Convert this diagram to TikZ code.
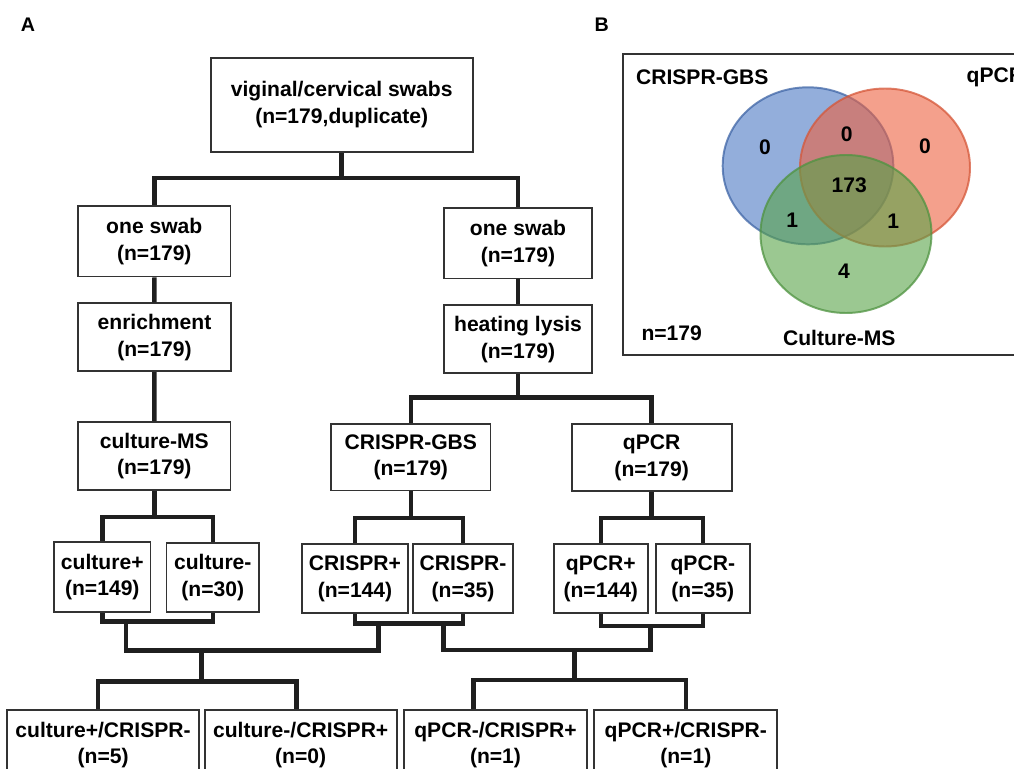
\documentclass[tikz,border=0pt]{standalone}
\usepackage{fontspec}
\setmainfont{Liberation Sans}
\usetikzlibrary{calc}
\tikzstyle{box}=[draw=black!80, line width=1.2pt, fill=white, align=center, inner sep=0pt, font=\bfseries\fontsize{15}{19}\selectfont]
\tikzstyle{link}=[draw=black!88, line width=3.2pt]
\tikzstyle{count}=[font=\bfseries\fontsize{15}{18}\selectfont]
\tikzstyle{panel}=[font=\bfseries\fontsize{14}{16}\selectfont]
\tikzstyle{setring}=[line width=1.4pt, fill opacity=0.6, draw opacity=0.75]
\definecolor{gbsblue}{RGB}{75,120,195}
\definecolor{pcrred}{RGB}{237,97,63}
\definecolor{msgreen}{RGB}{88,163,72}

\begin{document}
\begin{tikzpicture}[x=0.025cm, y=-0.025cm]

  \def\u{0.025cm};
  \useasboundingbox (0,0) rectangle (1014,769);

  \node[panel] (pA) at (28,25) {A};
  \node[panel] (pB) at (601.7,25) {B};

  % flow chart
  \foreach \x/\y/\w/\h/\name/\label in {
      341.7/104.9/262/93.7/top/{viginal/cervical swabs\\(n=179,duplicate)},
      154.3/241.3/152.7/70.7/swabL/{one swab\\(n=179)},
      154.5/337.3/153/68/enrich/{enrichment\\(n=179)},
      518/243.3/148/70.7/swabR/{one swab\\(n=179)},
      518/339.3/148/68/lysis/{heating lysis\\(n=179)},
      154.3/456/152.7/68/cMS/{culture-MS\\(n=179)},
      410.8/457.3/159.7/66.7/crispr/{CRISPR-GBS\\(n=179)},
      651.7/457.5/160/67/qpcr/{qPCR\\(n=179)},
      102.3/577/96.7/69.4/culP/{culture+\\(n=149)},
      212.8/577.2/92.3/69/culN/{culture-\\(n=30)},
      355/578.5/106/68.4/criP/{CRISPR+\\(n=144)},
      463/578.5/99.4/68.4/criN/{CRISPR-\\(n=35)},
      600.8/578.5/93.7/68.4/qP/{qPCR+\\(n=144)},
      702.8/578.5/94.3/68.4/qN/{qPCR-\\(n=35)},
      103.1/745/191.7/70/b1/{culture+/CRISPR-\\(n=5)},
      300.7/745/192/70/b2/{culture-/CRISPR+\\(n=0)},
      495.5/745/182.4/70/b3/{qPCR-/CRISPR+\\(n=1)},
      685.8/745/183/70/b4/{qPCR+/CRISPR-\\(n=1)}}
     \node[box, minimum width=\w*\u, minimum height=\h*\u] (\name) at (\x,\y) {\label};

  \coordinate (j1) at (341.7,178);
  \coordinate (j2) at (518,397.7);
  \draw[link] (top.south) -- (j1);
  \draw[link] (swabL.north) |- (j1) -| (swabR.north);
  \draw[link] (swabL) -- (enrich);
  \draw[link] (enrich) -- (cMS);
  \draw[link] (swabR) -- (lysis);
  \draw[link] (lysis.south) -- (j2);
  \draw[link] (crispr.north) |- (j2) -| (qpcr.north);

  \draw[link] (cMS.south) -- ++(0,26) coordinate (j3);
  \draw[link] (culP.north) |- (j3) -| (culN.north);
  \draw[link] (crispr.south) -- ++(0,26.6) coordinate (j4);
  \draw[link] (criP.north) |- (j4) -| (criN.north);
  \draw[link] (qpcr.south) -- ++(0,26) coordinate (j5);
  \draw[link] (qP.north) |- (j5) -| (qN.north);

  \draw[link] (culP.south) -- ++(0,9) -| (culN.south);
  \draw[link] (criP.south) -- ++(0,10) -| (criN.south);
  \draw[link] (qP.south) -- ++(0,12.5) -| (qN.south);

  % merging the results
  \coordinate (a1) at (126,620.7);
  \coordinate (a2) at (378.3,622.7);
  \coordinate (a3) at (443.3,622.7);
  \coordinate (a4) at (650.7,625);
  \coordinate (m1) at (201.7,650.7);
  \coordinate (m2) at (201.7,681.7);
  \coordinate (m3) at (574.3,650);
  \coordinate (m4) at (574.3,680);
  \draw[link] (a1) |- (m1) -| (a2);
  \draw[link] (m1) -- (m2);
  \draw[link] ([xshift=-5.3*\u]b1.north) |- (m2) -| ([xshift=-4*\u]b2.north);
  \draw[link] (a3) |- (m3) -| (a4);
  \draw[link] (m3) -- (m4);
  \draw[link] ([xshift=-22.2*\u]b3.north) |- (m4) -| (b4.north);

  % venn diagram
  \draw[black!80, line width=1.4pt] (622.7,54.3) rectangle (1030,355);
  \draw[setring, fill=gbsblue, draw=gbsblue!85!black] (808,165.8) ellipse [x radius=85.3*\u, y radius=78.5*\u];
  \draw[setring, fill=pcrred, draw=pcrred!90!black] (885,167.5) ellipse [x radius=85*\u, y radius=79*\u];
  \draw[setring, fill=msgreen, draw=msgreen!90!black] (846,234) ellipse [x radius=85.5*\u, y radius=79*\u];

  \foreach \x/\y/\name/\label in {765/147.7/onlyG/0, 846.7/134/GQ/0, 925/146.7/onlyQ/0,
      849.3/185/all/173, 792.3/220/GM/1, 893.3/221.7/QM/1, 844/271/onlyM/4}
     \node[count] (\name) at (\x,\y) {\label};

  \node[count] (gbs) at (702.3,77.7) {CRISPR-GBS};
  \node[count, anchor=west] (pcr) at (961.7,77.7) {qPCR};
  \node[count] (ms) at (839.3,338.3) {Culture-MS};
  \node[count] (tot) at (671.7,333.3) {n=179};

\end{tikzpicture}
\end{document}
